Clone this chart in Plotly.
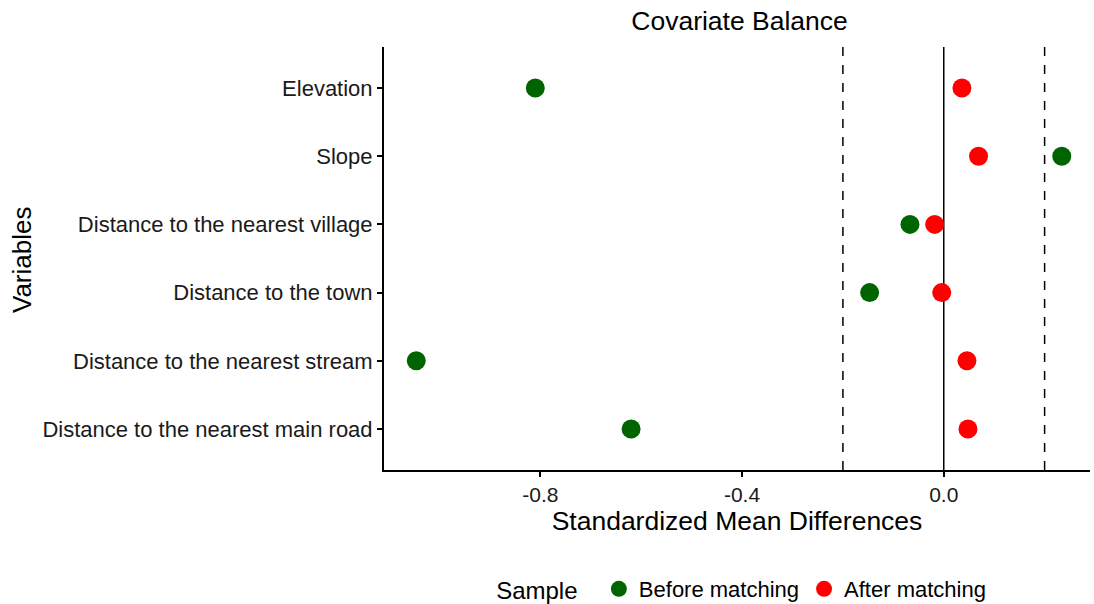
import plotly.graph_objects as go

# Covariates, listed bottom to top on the y axis
variables = [
    "Distance to the nearest main road",
    "Distance to the nearest stream",
    "Distance to the town",
    "Distance to the nearest village",
    "Slope",
    "Elevation",
]
# Standardized mean differences per covariate
before_matching = [-0.62, -1.046, -0.147, -0.067, 0.234, -0.81]
after_matching = [0.048, 0.046, -0.004, -0.018, 0.069, 0.036]

threshold = 0.2

FONT = "Liberation Sans, Arial, sans-serif"

fig = go.Figure()
fig.add_trace(go.Scatter(
    x=before_matching, y=variables, mode="markers", name="Before matching",
    marker=dict(color="#006400", size=19, line=dict(width=0)),
))
fig.add_trace(go.Scatter(
    x=after_matching, y=variables, mode="markers", name="After matching",
    marker=dict(color="#FF0000", size=19, line=dict(width=0)),
))

# Reference lines: zero and the +/- balance threshold
fig.add_vline(x=0, line=dict(color="black", width=1.5), layer="below")
for t in (-threshold, threshold):
    fig.add_vline(x=t, line=dict(color="black", width=1.5, dash="dash"), layer="below")

fig.update_layout(
    width=1094, height=604,
    margin=dict(l=384, r=4, t=47, b=134),
    paper_bgcolor="white", plot_bgcolor="white",
    font=dict(family=FONT, color="black"),
    title=dict(text="Covariate Balance", x=0.676, xanchor="center",
               y=0.966, yanchor="middle", font=dict(size=26.5, color="black")),
    showlegend=True,
    legend=dict(
        orientation="h", xref="paper", x=0.508, xanchor="center",
        yref="container", y=1 - 589 / 604, yanchor="middle",
        title=dict(text="Sample  ", font=dict(size=24)),
        font=dict(size=22), itemsizing="trace",
    ),
    annotations=[dict(
        text="Variables", xref="paper", yref="paper",
        x=(22 - 384) / 706, y=(470 - 260) / 423, xanchor="center", yanchor="middle",
        textangle=-90, showarrow=False, font=dict(size=26, color="black"),
    )],
)

fig.update_xaxes(
    range=[-1.11, 0.29], tickvals=[-0.8, -0.4, 0.0],
    ticktext=["-0.8", "-0.4", "0.0"],
    showgrid=False, zeroline=False,
    showline=True, linecolor="black", linewidth=2,
    ticks="outside", ticklen=5, tickwidth=1.5, tickcolor="black",
    tickfont=dict(size=21, color="#1a1a1a"),
    title=dict(text="Standardized Mean Differences", font=dict(size=26.5), standoff=2),
)
fig.update_yaxes(
    categoryorder="array", categoryarray=variables,
    range=[-0.6, 5.6],
    showgrid=False, zeroline=False,
    showline=True, linecolor="black", linewidth=2,
    ticks="outside", ticklen=5, tickwidth=1.5, tickcolor="black",
    tickfont=dict(size=22, color="#1a1a1a"),
)

fig.write_html("out.html")
